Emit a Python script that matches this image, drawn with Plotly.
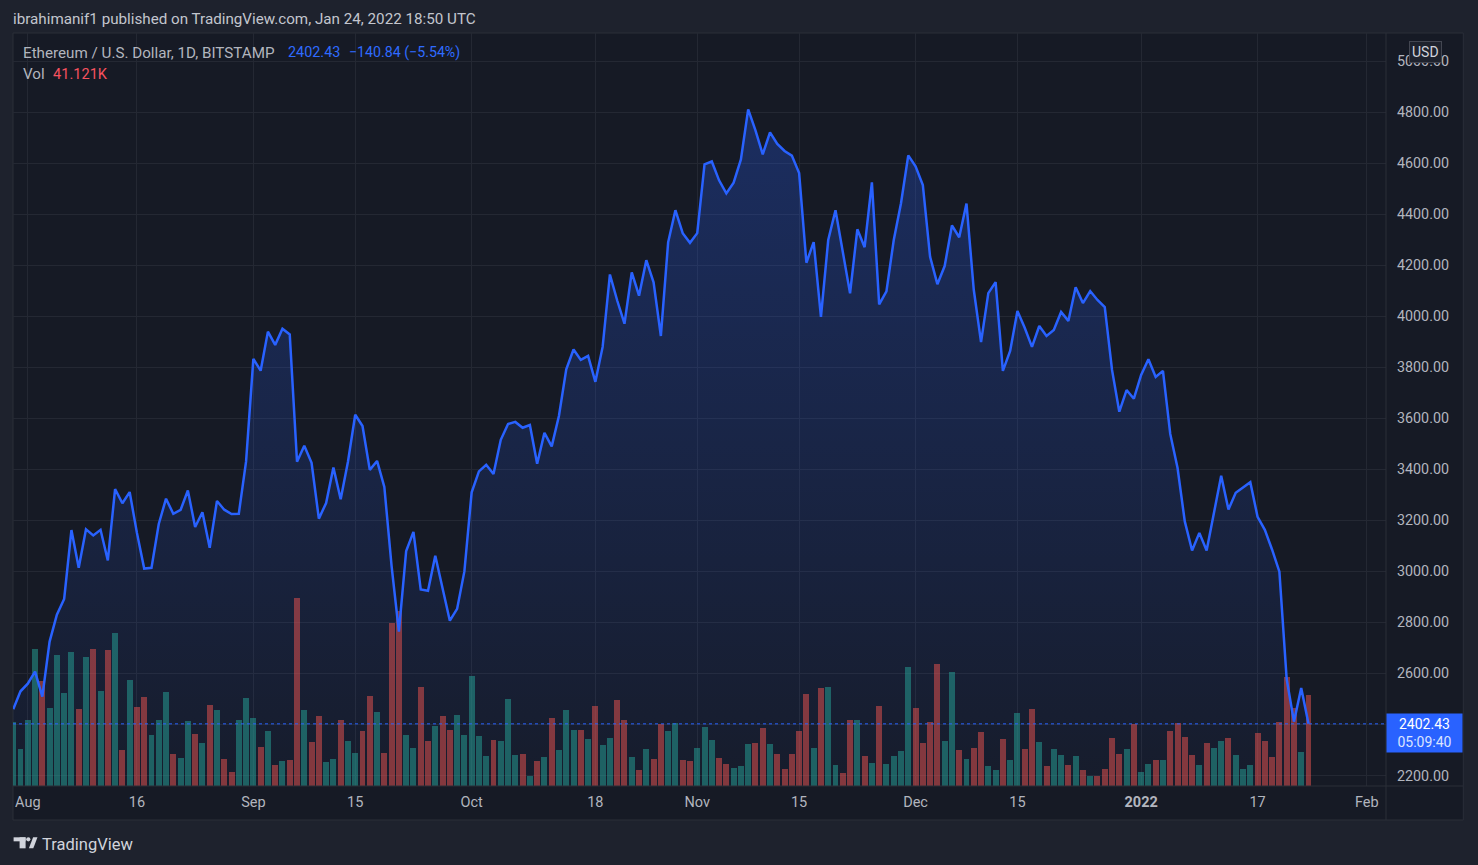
import pandas as pd
import plotly.graph_objects as go

# ---------------- DATA ----------------
dates = pd.date_range("2021-07-30", "2022-01-24", freq="D")

close = [
    2460, 2530,                                                    # Jul 30-31
    2560, 2607, 2509, 2725, 2830, 2892, 3162, 3014, 3165, 3141,    # Aug 1-10
    3163, 3043, 3323, 3267, 3311, 3151, 3011, 3014, 3186, 3285,    # Aug 11-20
    3226, 3241, 3317, 3174, 3232, 3093, 3276, 3242, 3225, 3226, 3431,  # Aug 21-31
    3833, 3787, 3940, 3888, 3951, 3929, 3430, 3493, 3426, 3207,    # Sep 1-10
    3268, 3407, 3283, 3430, 3614, 3570, 3398, 3433, 3331, 3020,    # Sep 11-20
    2764, 3080, 3155, 2929, 2924, 3061, 2928, 2807, 2853, 3000,    # Sep 21-30
    3310, 3392, 3418, 3382, 3516, 3578, 3586, 3563, 3574, 3422,    # Oct 1-10
    3543, 3490, 3610, 3792, 3870, 3829, 3845, 3743, 3880, 4164,    # Oct 11-20
    4062, 3971, 4172, 4081, 4220, 4133, 3923, 4290, 4416, 4326, 4288,  # Oct 21-31
    4326, 4596, 4607, 4533, 4482, 4524, 4615, 4811, 4729, 4635,    # Nov 1-10
    4721, 4676, 4648, 4630, 4562, 4210, 4291, 3998, 4299, 4416,    # Nov 11-20
    4253, 4090, 4341, 4271, 4525, 4047, 4098, 4298, 4443, 4631,    # Nov 21-30
    4588, 4515, 4233, 4126, 4197, 4356, 4310, 4442, 4104, 3899,    # Dec 1-10
    4091, 4134, 3786, 3864, 4021, 3955, 3880, 3962, 3923, 3946,    # Dec 11-20
    4017, 3982, 4114, 4052, 4099, 4064, 4036, 3790, 3626, 3711, 3677,  # Dec 21-31
    3770, 3832, 3762, 3786, 3539, 3406, 3196, 3082, 3151, 3082,    # Jan 1-10
    3234, 3375, 3243, 3308, 3329, 3350, 3214, 3163, 3085, 2999,    # Jan 11-20
    2578, 2411, 2543.27, 2402.43,                                  # Jan 21-24
]

volume_k = [
    28.9, 16.7,
    29.8, 61.9, 47.5, 35.3, 59.2, 42.0, 60.6, 34.8, 58.3, 61.9,
    42.9, 61.5, 69.2, 16.3, 47.9, 35.7, 40.2, 23.1, 29.8, 42.5,
    14.5, 12.7, 29.4, 23.5, 19.4, 36.6, 34.4, 12.2, 6.3, 29.8, 39.8,
    30.7, 17.6, 24.9, 9.5, 11.3, 11.8, 85.0, 34.4, 19.9, 31.6,
    10.8, 12.2, 29.8, 20.3, 14.9, 24.9, 40.7, 33.4, 14.9, 73.7,
    79.1, 23.1, 17.2, 44.7, 20.3, 27.1, 31.6, 25.3, 32.1, 23.1,
    49.7, 22.6, 13.6, 20.8, 20.3, 39.3, 14.0, 14.5, 4.5, 11.3,
    13.1, 30.7, 16.3, 34.4, 25.3, 25.3, 21.2, 36.2, 18.5, 21.7,
    38.9, 29.8, 13.1, 7.2, 16.7, 12.2, 28.0, 24.9, 28.5, 11.8, 11.3,
    17.2, 26.7, 20.8, 12.7, 9.9, 8.1, 9.0, 19.0, 19.4, 26.2,
    19.0, 14.5, 7.7, 14.5, 24.9, 41.6, 17.2, 44.3, 44.7, 9.5,
    5.9, 29.8, 29.8, 13.6, 10.4, 36.2, 9.9, 13.6, 15.8, 53.8,
    35.3, 19.4, 28.9, 55.1, 20.3, 51.5, 16.3, 12.2, 17.2, 24.4,
    9.0, 7.2, 21.2, 11.8, 33.0, 16.7, 34.8, 19.9, 9.0, 16.7,
    14.0, 9.5, 13.6, 7.2, 4.5, 4.5, 7.7, 21.7, 14.5, 16.7, 28.0,
    6.3, 9.9, 11.8, 11.8, 24.9, 28.5, 22.1, 14.0, 9.5, 19.4,
    17.2, 20.3, 21.7, 14.0, 7.7, 9.5, 24.0, 20.3, 13.1, 28.9,
    49.3, 35.3, 15.4, 41.121,
]

price_ticks = [2200, 2400, 2600, 2800, 3000, 3200, 3400, 3600, 3800,
               4000, 4200, 4400, 4600, 4800, 5000]
time_tick_dates = ["2021-08-01", "2021-08-16", "2021-09-01", "2021-09-15",
                   "2021-10-01", "2021-10-18", "2021-11-01", "2021-11-15",
                   "2021-12-01", "2021-12-15", "2022-01-01", "2022-01-17",
                   "2022-02-01"]
time_tick_labels = ["Aug", "16", "Sep", "15", "Oct", "18", "Nov", "15",
                    "Dec", "15", "<b>2022</b>", "17", "Feb"]

assert len(close) == len(dates) == len(volume_k)

# ---------------- STYLE / LAYOUT HELPERS ----------------
W, H = 1478, 865
PL, PR, PT, PB = 12.7, 1385.7, 33.3, 786.0   # plot area in pixels
FRAME_R, FRAME_B = 1463.0, 820.0


def px(x):
    return (x - PL) / (PR - PL)


def py(y):
    return (PB - y) / (PB - PT)


BG_OUT = "#1e222d"
BG_IN = "#161a25"
GRID = "#242833"
BORDER = "#2a2e39"
TXT = "#b2b5be"
BLUE = "#2962ff"
UP = "rgba(38,166,154,0.5)"
DOWN = "rgba(239,83,80,0.5)"
FONT = "Roboto, sans-serif"

vol_colors = [UP] + [UP if close[i] >= close[i - 1] else DOWN
                     for i in range(1, len(close))]

aug1 = pd.Timestamp("2021-08-01")
x_start = aug1 + pd.Timedelta(days=-2.03)
x_end = aug1 + pd.Timedelta(days=186.65)
y_lo, y_hi = 2158.8, 5110.6

fig = go.Figure()

# area fill (bottom layer)
fig.add_trace(go.Scatter(
    x=dates, y=close, mode="lines", line=dict(width=0, color=BLUE),
    fill="tozeroy",
    fillgradient=dict(type="vertical",
                      colorscale=[[0, "rgba(41,98,255,0.03)"],
                                  [1, "rgba(41,98,255,0.30)"]],
                      start=y_lo, stop=y_hi),
    hoverinfo="skip", showlegend=False, yaxis="y"))

# volume bars (middle layer)
fig.add_trace(go.Bar(
    x=dates, y=volume_k, marker=dict(color=vol_colors, line=dict(width=0)),
    width=0.82 * 86400000, showlegend=False, yaxis="y2"))

# price line (top layer)
fig.add_trace(go.Scatter(
    x=dates, y=close, mode="lines", line=dict(color=BLUE, width=2.5),
    showlegend=False, yaxis="y3"))

last = close[-1]
prev = close[-2]
chg = last - prev
pct = chg / prev * 100

shapes = [
    # chart frame background
    dict(type="rect", xref="paper", yref="paper", x0=px(PL), x1=px(FRAME_R),
         y0=py(FRAME_B), y1=py(PT), fillcolor=BG_IN,
         line=dict(color=BORDER, width=1), layer="below"),
    # separator between plot and price scale
    dict(type="line", xref="paper", yref="paper", x0=1, x1=1,
         y0=py(FRAME_B), y1=1, line=dict(color=BORDER, width=1)),
    # separator between plot and time scale
    dict(type="line", xref="paper", yref="paper", x0=0, x1=px(FRAME_R),
         y0=0, y1=0, line=dict(color=BORDER, width=1)),
    # last price dotted line
    dict(type="line", xref="paper", yref="y", x0=0, x1=1, y0=last, y1=last,
         line=dict(color=BLUE, width=1, dash="dot")),
    # TradingView logo
    dict(type="rect", xref="paper", yref="paper", x0=px(13.3), x1=px(25.3),
         y0=py(841.3), y1=py(837.3), fillcolor="#d1d4dc", line=dict(width=0)),
    dict(type="rect", xref="paper", yref="paper", x0=px(19.3), x1=px(25.3),
         y0=py(848.3), y1=py(837.3), fillcolor="#d1d4dc", line=dict(width=0)),
    dict(type="circle", xref="paper", yref="paper", x0=px(25.9), x1=px(30.1),
         y0=py(841.4), y1=py(837.2), fillcolor="#d1d4dc", line=dict(width=0)),
]
slash = [(28.6, 848.3), (33.0, 848.3), (37.2, 837.3), (32.8, 837.3)]
path = "M " + " L ".join(f"{px(a):.5f},{py(b):.5f}" for a, b in slash) + " Z"
shapes.append(dict(type="path", xref="paper", yref="paper", path=path,
                   fillcolor="#d1d4dc", line=dict(width=0)))


def ann(x, y, text, color=TXT, size=15, **kw):
    d = dict(xref="paper", yref="paper", x=px(x), y=py(y), text=text,
             showarrow=False, xanchor="left", yanchor="middle",
             font=dict(family=FONT, size=size, color=color))
    d.update(kw)
    return d


annotations = [
    ann(11, 19, "ibrahimanif1 published on TradingView.com, Jan 24, 2022 18:50 UTC",
        color="#c3c6ce", size=15.2),
    ann(21, 53, "Ethereum / U.S. Dollar, 1D, BITSTAMP", color=TXT, size=15.2),
    ann(286, 53, f"{last:.2f}", color="#2f6bff", size=14.4),
    ann(347, 53, f"\u2212{abs(chg):.2f} (\u2212{abs(pct):.2f}%)", color="#2f6bff", size=14.2),
    ann(21, 74, "Vol", color=TXT, size=15.2),
    ann(51, 74, f"{volume_k[-1]:.3f}K", color="#f7525f", size=14.6),
    ann(40, 844, "TradingView", color="#d1d4dc", size=16.5),
    # USD badge (drawn over the 5000.00 label as in the original)
    dict(xref="paper", yref="paper", x=px(1425), y=py(52), text="USD",
         showarrow=False, xanchor="center", yanchor="middle",
         font=dict(family=FONT, size=14, color="#d1d4dc"),
         bgcolor=BG_OUT, bordercolor="#434651", borderwidth=1, borderpad=2),
    # last price label
    dict(xref="paper", yref="y", x=1.0, y=last, yshift=-9,
         text=f"{last:.2f}<br><span style='color:#dbe4ff'>05:09:40</span>",
         showarrow=False, xanchor="left", yanchor="middle", align="center",
         width=73, height=36, borderpad=1, bgcolor=BLUE,
         font=dict(family=FONT, size=14, color="#ffffff")),
]

# the 2400 label is hidden behind the last-price label in the original
price_tick_text = ["" if v == 2400 else f"{v:.2f}" for v in price_ticks]

fig.update_layout(
    width=W, height=H,
    margin=dict(l=PL, r=W - PR, t=PT, b=H - PB, pad=0),
    paper_bgcolor=BG_OUT, plot_bgcolor="rgba(0,0,0,0)",
    font=dict(family=FONT, color=TXT, size=14),
    bargap=0, showlegend=False, hovermode=False,
    xaxis=dict(type="date", range=[x_start, x_end],
               tickvals=time_tick_dates, ticktext=time_tick_labels,
               showgrid=True, gridcolor=GRID, gridwidth=1,
               zeroline=False, showline=False, ticks="",
               ticklabelstandoff=5,
               tickfont=dict(family=FONT, size=14.5, color=TXT)),
    yaxis=dict(range=[y_lo, y_hi], side="right",
               tickvals=price_ticks, ticktext=price_tick_text,
               showgrid=True, gridcolor=GRID, gridwidth=1,
               zeroline=False, showline=False, ticks="",
               ticklabelstandoff=10,
               tickfont=dict(family=FONT, size=14.3, color=TXT)),
    yaxis2=dict(overlaying="y", range=[0, 340.1], visible=False),
    yaxis3=dict(overlaying="y", range=[y_lo, y_hi], visible=False),
    shapes=shapes, annotations=annotations,
)

fig.write_html("out.html",
               config={"displayModeBar": False, "staticPlot": True},
               post_script="document.body.style.margin='0px';"
                           "document.body.style.overflow='hidden';")
